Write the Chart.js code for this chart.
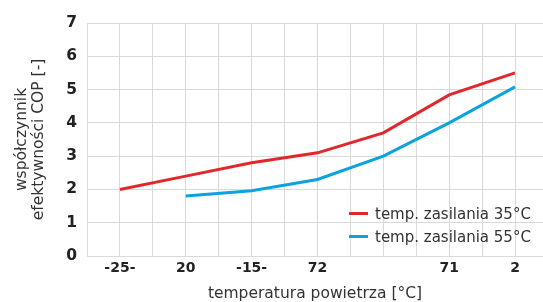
<!DOCTYPE html>
<html>
<head>
<meta charset="utf-8">
<script src="https://cdn.jsdelivr.net/npm/chart.js@4.4.1/dist/chart.umd.min.js"></script>
<style>
  html, body { margin: 0; padding: 0; background: #fff; overflow: hidden; }
  #wrap { position: relative; width: 543px; height: 302px; }
  #legend { position: absolute; left: 349px; top: 202px; font-family: "DejaVu Sans", sans-serif; font-size: 15px; color: #333; }
  #legend div { display: flex; align-items: center; height: 23px; white-space: nowrap; }
  #legend span.sw { display: inline-block; width: 19px; height: 3px; margin-right: 7px; }
</style>
</head>
<body>
<div id="wrap">
  <canvas id="c" width="543" height="302"></canvas>
  <div id="legend"></div>
</div>
<script>
const categories = ['-25-', '20', '-15-', '72', '', '71', '2'];
const series35 = [2.0, 2.4, 2.8, 3.1, 3.7, 4.84, 5.5];
const series55 = [null, 1.8, 1.96, 2.3, 3.0, 4.0, 5.08];
const yTicks = [0, 1, 2, 3, 4, 5, 6, 7];
const seriesNames = ['temp. zasilania 35°C', 'temp. zasilania 55°C'];
const seriesColors = ['#e3262b', '#0aa3e0'];
const xTitle = 'temperatura powietrza [°C]';
const yTitle = ['współczynnik', 'efektywności COP [-]'];

// categories sit on odd half-steps of the linear x scale; gridlines at every half-step
const toPoints = vals => vals.map((v, i) => ({ x: 2 * i + 1, y: v })).filter(p => p.y !== null);
const labelFor = v => (v % 2 === 1 ? categories[(v - 1) / 2] : '');

const datasets = [series35, series55].map((vals, k) => ({
  label: seriesNames[k],
  data: toPoints(vals),
  borderColor: seriesColors[k],
  backgroundColor: seriesColors[k],
  borderWidth: 3,
  pointRadius: 0,
  tension: 0,
  fill: false
}));

const xTickFont = { family: '"DejaVu Sans", sans-serif', size: 14, weight: 'bold' };
const yTickFont = { family: '"DejaVu Sans", sans-serif', size: 15.5, weight: 'bold' };
const titleFont = { family: '"DejaVu Sans", sans-serif', size: 15.5, weight: 'normal', lineHeight: 1.1 };

new Chart(document.getElementById('c'), {
  type: 'line',
  data: { datasets },
  options: {
    responsive: false,
    animation: false,
    layout: { padding: { top: 23, right: 0, bottom: 0, left: 4 } },
    plugins: { legend: { display: false }, tooltip: { enabled: false } },
    scales: {
      x: {
        type: 'linear',
        min: 0,
        max: 13.85,
        afterBuildTicks: s => { s.ticks = Array.from({ length: 14 }, (_, i) => ({ value: i })); },
        afterFit: s => { s.height = 46; },
        grid: { color: '#d9d9d9', lineWidth: 1, drawTicks: false },
        border: { color: '#d9d9d9' },
        ticks: { callback: v => labelFor(v), font: xTickFont, color: '#222', padding: 4, autoSkip: false, maxRotation: 0 },
        title: { display: true, text: xTitle, font: titleFont, color: '#333', padding: { top: 0, bottom: 0 } }
      },
      y: {
        min: 0,
        max: 7,
        afterBuildTicks: s => { s.ticks = yTicks.map(v => ({ value: v })); },
        afterFit: s => { s.width = 83; },
        grid: { color: '#d9d9d9', lineWidth: 1, drawTicks: false },
        border: { color: '#d9d9d9' },
        ticks: { font: yTickFont, color: '#222', padding: 10 },
        title: { display: true, text: yTitle, font: titleFont, color: '#333', padding: { top: 9.5, bottom: 0 } }
      }
    }
  }
});

const lg = document.getElementById('legend');
seriesNames.forEach((n, k) => {
  const d = document.createElement('div');
  d.innerHTML = '<span class="sw" style="background:' + seriesColors[k] + '"></span>' + n;
  lg.appendChild(d);
});
</script>
</body>
</html>
